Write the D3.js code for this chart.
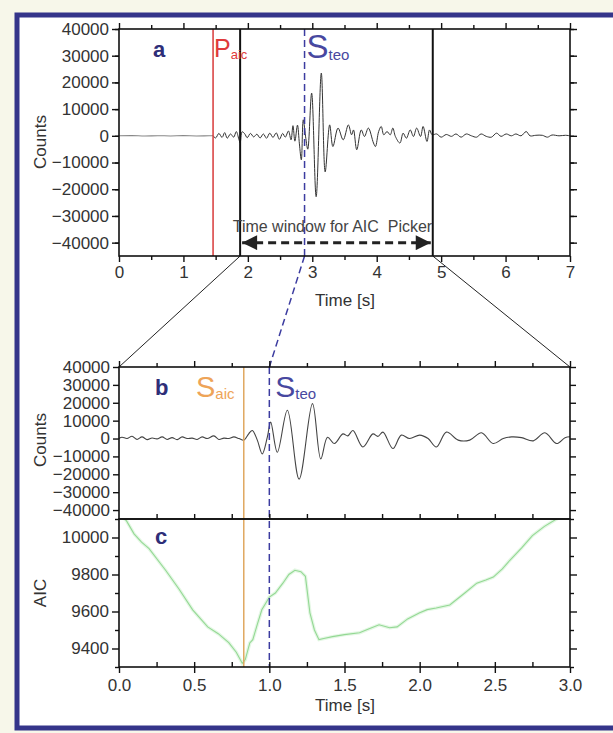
<!DOCTYPE html>
<html>
<head>
<meta charset="utf-8">
<script src="https://cdn.jsdelivr.net/npm/d3@7"></script>
<style>
body { margin: 0; background: #f7f7ea; }
svg { display: block; font-family: "Liberation Sans", Arial, sans-serif; }
</style>
</head>
<body>
<div id="chart"></div>
<script>
// panel a: raw trace [time s, counts]
const waveA = [
  [0,0],[0.2,80],[0.4,-60],[0.6,50],[0.8,-40],[1.0,60],[1.2,-50],[1.4,30],[1.46,0],
  [1.50,-800],[1.55,900],[1.60,-600],[1.64,1200],[1.68,-900],[1.73,700],[1.78,-500],[1.82,1600],
  [1.86,-1200],[1.88,-2600],[1.91,1500],[1.95,800],[1.99,-700],[2.04,900],[2.09,-400],[2.14,600],
  [2.19,-800],[2.24,700],[2.29,-900],[2.34,1000],[2.39,-600],[2.44,1100],[2.49,-1300],[2.54,900],
  [2.58,-500],[2.63,1800],[2.67,-1500],[2.70,3800],[2.73,-2000],[2.77,4000],[2.80,-3000],
  [2.83,-9000],[2.86,6000],[2.90,-1000],[2.93,-5000],[2.99,16000],[3.06,-22800],[3.14,23500],
  [3.20,-13500],[3.27,4100],[3.32,-4000],[3.40,2900],[3.48,-1500],[3.56,4100],[3.61,400],
  [3.64,2200],[3.69,-5200],[3.76,2200],[3.81,-250],[3.87,2900],[3.95,-2700],[3.98,-4000],
  [4.03,1600],[4.07,3500],[4.11,370],[4.16,1600],[4.21,370],[4.25,2900],[4.29,-250],[4.36,-2700],
  [4.41,1000],[4.46,-900],[4.52,2200],[4.57,-250],[4.62,2900],[4.68,-250],[4.72,3500],[4.78,-2100],
  [4.82,2200],[4.86,400],[4.93,700],[5.00,-500],[5.08,500],[5.16,-200],[5.23,700],[5.31,-500],
  [5.39,700],[5.47,0],[5.55,-500],[5.62,700],[5.70,-200],[5.78,-500],[5.86,1000],[5.93,-200],
  [6.01,700],[6.09,0],[6.16,700],[6.24,0],[6.32,1600],[6.38,0],[6.47,200],[6.57,200],[6.65,-500],
  [6.72,300],[6.83,0],[6.93,200],[7.0,0]
];

// panel b: filtered trace inside the AIC window
const waveB = [
  [0,0],[0.02,750],[0.053,0],[0.087,1300],[0.12,-500],[0.153,900],[0.187,-600],[0.22,300],
  [0.253,-200],[0.287,900],[0.32,-500],[0.353,500],[0.387,-600],[0.42,900],[0.453,0],[0.487,200],
  [0.52,-500],[0.553,900],[0.587,0],[0.631,1500],[0.664,-500],[0.698,200],[0.731,0],[0.764,900],
  [0.798,0],[0.831,-900],[0.864,2800],[0.887,4500],[0.92,-900],[0.953,-8600],[0.987,900],
  [1.009,9200],[1.053,-7700],[1.12,15800],[1.198,-22700],[1.287,19500],[1.342,-11400],[1.387,700],
  [1.433,-2800],[1.489,2600],[1.522,1500],[1.556,4500],[1.622,-4700],[1.689,2600],[1.722,1200],
  [1.756,3600],[1.822,-5600],[1.878,1900],[1.933,0],[2.0,1900],[2.056,0],[2.111,-4700],[2.178,3600],
  [2.256,-900],[2.333,-900],[2.411,3200],[2.489,-2800],[2.556,0],[2.611,900],[2.678,500],
  [2.756,-1300],[2.833,3200],[2.911,-2800],[2.967,500],[3.0,1000]
];

// panel c: AIC function
const aicCurve = [
  [0.0,10130],[0.05,10090],[0.10,10020],[0.15,9975],[0.20,9940],[0.31,9823],[0.40,9720],
  [0.49,9609],[0.59,9517],[0.66,9480],[0.73,9432],[0.78,9380],[0.82,9320],[0.84,9340],
  [0.87,9430],[0.89,9448],[0.92,9530],[0.95,9609],[0.98,9650],[1.0,9678],[1.04,9700],
  [1.09,9753],[1.13,9800],[1.17,9823],[1.21,9815],[1.24,9790],[1.27,9593],[1.30,9500],
  [1.33,9448],[1.37,9455],[1.42,9464],[1.5,9475],[1.6,9485],[1.66,9505],[1.73,9528],
  [1.8,9512],[1.85,9517],[1.92,9560],[2.0,9593],[2.05,9610],[2.11,9619],[2.2,9635],
  [2.3,9700],[2.38,9753],[2.44,9770],[2.49,9786],[2.55,9830],[2.6,9877],[2.68,9945],
  [2.75,10010],[2.83,10060],[2.91,10100],[2.95,10130]
];

// picks (s)
const pAic = 1.46, sTeoA = 2.88, winStart = 1.88, winEnd = 4.87;
const sAicB = 0.83, sTeoB = 1.0;

// ticks
const countTicks = [-40000,-30000,-20000,-10000,0,10000,20000,30000,40000];
const timeTicksA = [0,1,2,3,4,5,6,7];
const timeTicksB = [0,0.5,1.0,1.5,2.0,2.5,3.0];
const aicTicks = [9400,9600,9800,10000];

const W = 613, H = 733;
const svg = d3.select("#chart").append("svg").attr("width", W).attr("height", H);

svg.append("rect").attr("width", W).attr("height", H).attr("fill", "#f7f7ea");
svg.append("rect").attr("x", 17).attr("y", 15).attr("width", 640).attr("height", 713)
  .attr("fill", "#fff").attr("stroke", "#35358a").attr("stroke-width", 5);

const L = 119, R = 570;
const xA = d3.scaleLinear().domain([0, 7]).range([L, R]);
const yA = d3.scaleLinear().domain([-45000, 40000]).range([256, 29]);
const xB = d3.scaleLinear().domain([0, 3]).range([L, R]);
const yB = d3.scaleLinear().domain([-45000, 40000]).range([519, 367]);
const yC = d3.scaleLinear().domain([9300, 10100]).range([667, 519]);

function clip(id, y0, y1) {
  svg.append("clipPath").attr("id", id).append("rect")
    .attr("x", L).attr("y", y0).attr("width", R - L).attr("height", y1 - y0);
  return `url(#${id})`;
}
const clipA = clip("ca", 29, 256), clipB = clip("cb", 367, 519), clipC = clip("cc", 519, 667);

// traces (pre-event part of a drawn in grey)
const lineA = d3.line().x(d => xA(d[0])).y(d => yA(d[1])).curve(d3.curveCatmullRom);
svg.append("path").datum(waveA.filter(d => d[0] <= pAic)).attr("clip-path", clipA)
  .attr("fill", "none").attr("stroke", "#888").attr("stroke-width", 1.1).attr("d", lineA);
svg.append("path").datum(waveA.filter(d => d[0] >= pAic)).attr("clip-path", clipA)
  .attr("fill", "none").attr("stroke", "#333").attr("stroke-width", 1).attr("d", lineA);

svg.append("path").datum(waveB).attr("clip-path", clipB)
  .attr("fill", "none").attr("stroke", "#444").attr("stroke-width", 1.1)
  .attr("d", d3.line().x(d => xB(d[0])).y(d => yB(d[1])).curve(d3.curveCatmullRom));

const aicLine = d3.line().x(d => xB(d[0])).y(d => yC(d[1]));
svg.append("path").datum(aicCurve).attr("clip-path", clipC)
  .attr("fill", "none").attr("stroke", "#e4f7e4").attr("stroke-width", 3.5).attr("d", aicLine);
svg.append("path").datum(aicCurve).attr("clip-path", clipC)
  .attr("fill", "none").attr("stroke", "#94d894").attr("stroke-width", 1.1).attr("d", aicLine);

// pick lines
function vline(x, y0, y1, color, w, dash) {
  svg.append("line").attr("x1", x).attr("x2", x).attr("y1", y0).attr("y2", y1)
    .attr("stroke", color).attr("stroke-width", w).attr("stroke-dasharray", dash || null);
}
vline(xA(pAic), 29, 256, "#d83a3a", 1.5);
vline(xA(winStart), 29, 256, "#111", 2);
vline(xA(winEnd), 29, 256, "#111", 2);
vline(xA(sTeoA), 29, 256, "#3c3ca0", 1.5, "7,4");
vline(xB(sAicB), 367, 667, "#e0a860", 1.5);
vline(xB(sTeoB), 367, 667, "#3c3ca0", 1.5, "7,4");

// zoom connectors
svg.append("line").attr("x1", xA(winStart)).attr("y1", 256).attr("x2", xB(0)).attr("y2", 367)
  .attr("stroke", "#222").attr("stroke-width", 1);
svg.append("line").attr("x1", xA(winEnd)).attr("y1", 256).attr("x2", xB(3)).attr("y2", 367)
  .attr("stroke", "#222").attr("stroke-width", 1);
svg.append("line").attr("x1", xA(sTeoA)).attr("y1", 256).attr("x2", xB(sTeoB)).attr("y2", 367)
  .attr("stroke", "#3c3ca0").attr("stroke-width", 1.5).attr("stroke-dasharray", "7,4");

// window arrow
const defs = svg.append("defs");
["s", "e"].forEach(k => {
  defs.append("marker").attr("id", "ar" + k).attr("viewBox", "0 0 10 10")
    .attr("refX", 10).attr("refY", 5).attr("markerWidth", 6).attr("markerHeight", 5)
    .attr("markerUnits", "strokeWidth").attr("orient", k === "s" ? "auto-start-reverse" : "auto")
    .append("path").attr("d", "M0,0L10,5L0,10Z").attr("fill", "#222");
});
const ay = yA(-40000);
svg.append("line").attr("x1", xA(winStart) + 2).attr("x2", xA(winEnd) - 2).attr("y1", ay).attr("y2", ay)
  .attr("stroke", "#222").attr("stroke-width", 3).attr("stroke-dasharray", "8,5")
  .attr("marker-start", "url(#ars)").attr("marker-end", "url(#are)");
svg.append("text").attr("x", (xA(winStart) + xA(winEnd)) / 2 - 4).attr("y", ay - 11)
  .attr("text-anchor", "middle").style("white-space", "pre").attr("fill", "#444")
  .style("font-size", "16px").text("Time window for AIC  Picker");

// axes
function axis(gen, scale, at, values, size, fmt, pad) {
  const a = gen(scale).tickValues(values).tickSize(size).tickPadding(pad || 3)
    .tickFormat(fmt || (() => ""));
  const g = svg.append("g").attr("transform", at).call(a);
  g.select(".domain").remove();
  g.selectAll("line").attr("stroke", "#111").attr("stroke-width", 1.4);
  g.selectAll("text").attr("fill", "#333").style("font-size", "17px")
    .style("font-family", "'Liberation Sans', Arial, sans-serif");
  return g;
}
const odd = (lo, hi, st) => d3.range(lo, hi + st / 2, st).filter((v, i) => i % 2 === 1);
const fInt = d3.format("d"), f1 = d3.format(".1f");

// a
axis(d3.axisLeft, yA, `translate(${L},0)`, countTicks, 7, fInt);
axis(d3.axisLeft, yA, `translate(${L},0)`, odd(-45000, 40000, 5000), 4);
axis(d3.axisRight, yA, `translate(${R},0)`, countTicks, 7);
axis(d3.axisRight, yA, `translate(${R},0)`, odd(-45000, 40000, 5000), 4);
axis(d3.axisBottom, xA, `translate(0,256)`, timeTicksA, 6, fInt, 4);
axis(d3.axisBottom, xA, `translate(0,256)`, odd(0, 7, 0.5), 4);
axis(d3.axisTop, xA, `translate(0,29)`, timeTicksA, 6);
axis(d3.axisTop, xA, `translate(0,29)`, odd(0, 7, 0.5), 4);

// b
axis(d3.axisLeft, yB, `translate(${L},0)`, countTicks, 6, fInt);
axis(d3.axisRight, yB, `translate(${R},0)`, countTicks, 6);
axis(d3.axisTop, xB, `translate(0,367)`, timeTicksB, 6);
axis(d3.axisTop, xB, `translate(0,367)`, odd(0, 3, 0.25), 4);
axis(d3.axisTop, xB, `translate(0,519)`, d3.range(0.25, 3, 0.25), 5);

// c
axis(d3.axisLeft, yC, `translate(${L},0)`, aicTicks, 7, fInt);
axis(d3.axisLeft, yC, `translate(${L},0)`, [9300, 9500, 9700, 9900, 10100], 4);
axis(d3.axisRight, yC, `translate(${R},0)`, aicTicks, 7);
axis(d3.axisRight, yC, `translate(${R},0)`, [9300, 9500, 9700, 9900, 10100], 4);
axis(d3.axisBottom, xB, `translate(0,667)`, timeTicksB, 6, f1, 6);
axis(d3.axisBottom, xB, `translate(0,667)`, d3.range(0.25, 3, 0.25), -5);

// frames
[[29, 256], [367, 519], [519, 667]].forEach(([t, b]) => {
  svg.append("rect").attr("x", L).attr("y", t).attr("width", R - L).attr("height", b - t)
    .attr("fill", "none").attr("stroke", "#111").attr("stroke-width", 1.6);
});

// axis titles
function title(txt, x, y, rot) {
  svg.append("text").attr("transform", `translate(${x},${y})` + (rot ? " rotate(-90)" : ""))
    .attr("text-anchor", "middle").attr("fill", "#333").style("font-size", "17px").text(txt);
}
title("Counts", 46, 142, true);
title("Counts", 46, 440, true);
title("AIC", 46, 593, true);
title("Time [s]", 345, 306);
title("Time [s]", 345, 711);

// panel letters and pick labels
function letter(t, x, y) {
  svg.append("text").attr("x", x).attr("y", y).attr("fill", "#2e2e78")
    .style("font-size", "22px").style("font-weight", "bold").text(t);
}
letter("a", 153, 57);
letter("b", 155, 395);
letter("c", 155, 544);

function pick(main, sub, x, y, color, big, small) {
  const t = svg.append("text").attr("x", x).attr("y", y).attr("fill", color);
  t.append("tspan").style("font-size", big + "px").text(main);
  t.append("tspan").style("font-size", small + "px").attr("dy", 2).text(sub);
}
pick("P", "aic", xA(pAic) + 1, 57, "#e03a3a", 25, 13);
pick("S", "teo", xA(sTeoA) + 2, 58, "#4848a0", 33, 15);
pick("S", "aic", 196, 397, "#eea458", 29, 15);
pick("S", "teo", xB(sTeoB) + 6, 397, "#4848a0", 30, 15);
</script>
</body>
</html>
